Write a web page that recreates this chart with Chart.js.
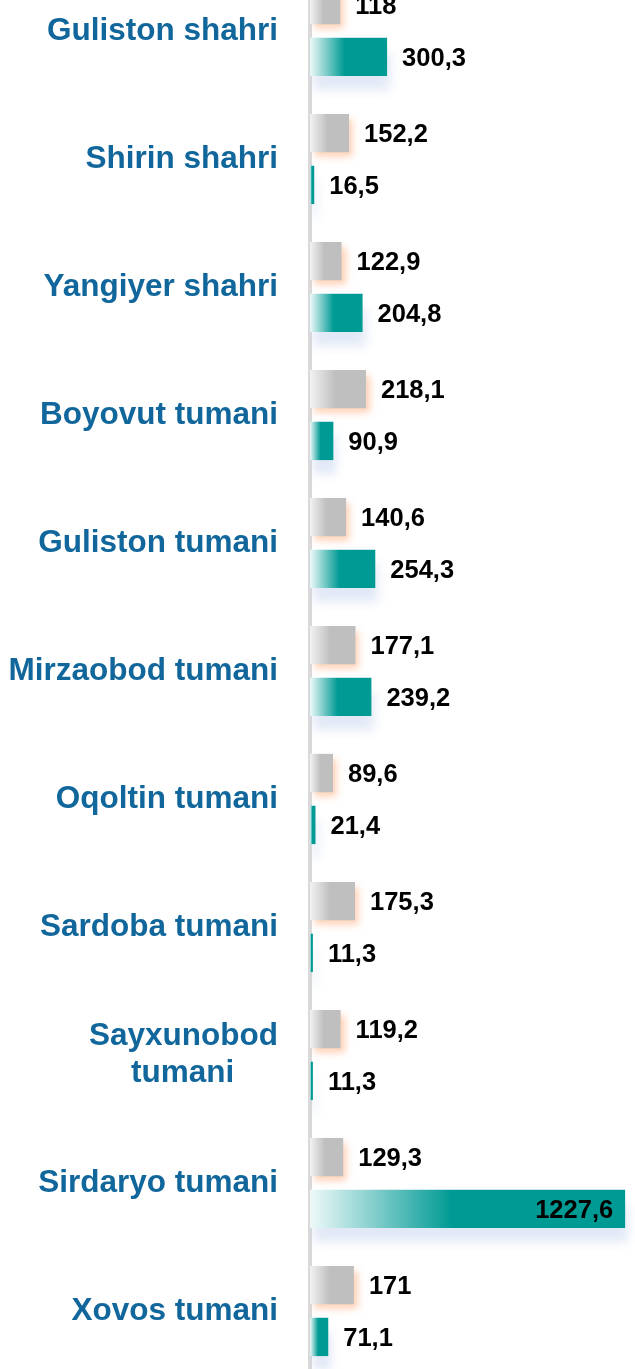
<!DOCTYPE html>
<html>
<head>
<meta charset="utf-8">
<script src="https://cdn.jsdelivr.net/npm/chart.js@4/dist/chart.umd.min.js"></script>
<style>
html,body{margin:0;padding:0;background:#fff;overflow:hidden;}
#wrap{position:absolute;left:0;top:-33px;width:635px;height:1408px;}
</style>
</head>
<body>
<div id="wrap"><canvas id="c" width="635" height="1408"></canvas></div>
<script>
const categories = [
  'Guliston shahri', 'Shirin shahri', 'Yangiyer shahri', 'Boyovut tumani',
  'Guliston tumani', 'Mirzaobod tumani', 'Oqoltin tumani', 'Sardoba tumani',
  ['Sayxunobod', 'tumani     '], 'Sirdaryo tumani', 'Xovos tumani'
];
const seriesGray = [118, 152.2, 122.9, 218.1, 140.6, 177.1, 89.6, 175.3, 119.2, 129.3, 171];
const seriesTeal = [300.3, 16.5, 204.8, 90.9, 254.3, 239.2, 21.4, 11.3, 11.3, 1227.6, 71.1];
const xMax = 1266;

function fmt(v){ return String(v).replace('.', ','); }

function makeGrad(ctx, light, dark){
  const chart = ctx.chart;
  const xs = chart.scales.x;
  if (!xs || !chart.chartArea) return dark;
  const v = ctx.raw;
  const x0 = xs.getPixelForValue(0);
  const x1 = xs.getPixelForValue(v);
  if (!isFinite(x0) || !isFinite(x1) || x1 - x0 < 1) return dark;
  const g = chart.ctx.createLinearGradient(x0, 0, x1, 0);
  g.addColorStop(0, light);
  g.addColorStop(0.45, dark);
  g.addColorStop(1, dark);
  return g;
}

const shadowPlugin = {
  id: 'shadowPlugin',
  beforeDatasetDraw(chart, args){
    const c = chart.ctx;
    c.save();
    if (args.index === 0){
      c.shadowColor = 'rgba(255,170,120,0.55)';
      c.shadowBlur = 7;
      c.shadowOffsetX = 4;
      c.shadowOffsetY = 5;
    } else {
      c.shadowColor = 'rgba(190,205,235,0.45)';
      c.shadowBlur = 10;
      c.shadowOffsetX = 3;
      c.shadowOffsetY = 14;
    }
  },
  afterDatasetDraw(chart){
    chart.ctx.restore();
  }
};

const valueLabels = {
  id: 'valueLabels',
  afterDatasetsDraw(chart){
    const c = chart.ctx;
    c.save();
    c.font = 'bold 25.5px "Liberation Sans", Arial, sans-serif';
    c.fillStyle = '#000';
    c.textBaseline = 'middle';
    chart.data.datasets.forEach((ds, di) => {
      const meta = chart.getDatasetMeta(di);
      meta.data.forEach((bar, i) => {
        const v = ds.data[i];
        if (v > 1000){
          c.textAlign = 'right';
          c.fillText(fmt(v), bar.x - 12, bar.y + 2);
        } else {
          c.textAlign = 'left';
          c.fillText(fmt(v), bar.x + 15, bar.y + 2);
        }
      });
    });
    c.restore();
  }
};

new Chart(document.getElementById('c'), {
  type: 'bar',
  data: {
    labels: categories,
    datasets: [
      {
        label: 'A',
        data: seriesGray,
        backgroundColor: (ctx) => makeGrad(ctx, '#f2f2f2', '#bfbfbf'),
        borderWidth: 0,
        categoryPercentage: 0.81,
        barPercentage: 0.74
      },
      {
        label: 'B',
        data: seriesTeal,
        backgroundColor: (ctx) => makeGrad(ctx, '#eef9f9', '#009a94'),
        borderWidth: 0,
        categoryPercentage: 0.81,
        barPercentage: 0.74
      }
    ]
  },
  options: {
    indexAxis: 'y',
    responsive: false,
    animation: false,
    devicePixelRatio: 1,
    layout: { padding: 0 },
    plugins: { legend: { display: false }, tooltip: { enabled: false } },
    scales: {
      x: {
        display: false,
        min: 0,
        max: xMax,
        grid: { display: false }
      },
      y: {
        afterFit(scale){
          scale.width = 310;
          scale.paddingTop = 0;
          scale.paddingBottom = 0;
        },
        grid: { display: false, drawTicks: false },
        border: { display: true, color: '#d9d9d9', width: 4 },
        ticks: {
          color: '#11679b',
          padding: 32,
          font: { family: '"Liberation Sans", Arial, sans-serif', size: 31.5, weight: 'bold', lineHeight: 1.18 }
        }
      }
    }
  },
  plugins: [shadowPlugin, valueLabels]
});
</script>
</body>
</html>
